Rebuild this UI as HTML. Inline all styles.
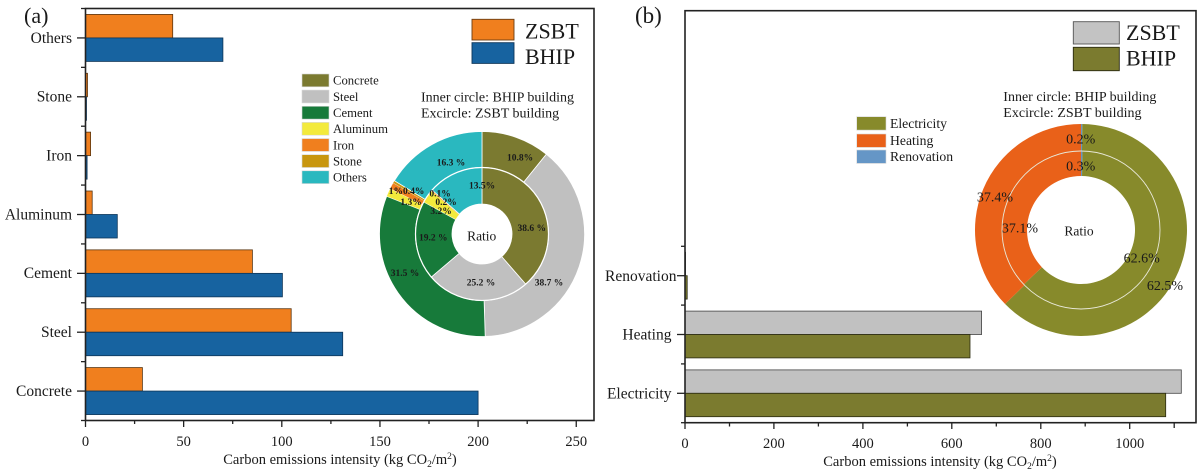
<!DOCTYPE html>
<html>
<head>
<meta charset="utf-8">
<style>
html,body{margin:0;padding:0;background:#fff;}
svg{display:block;}
text{font-family:"Liberation Serif","Times New Roman",serif;fill:#1a1a1a;}
.pl{font-size:9.5px;font-weight:bold;}
</style>
</head>
<body>
<svg width="1200" height="473" viewBox="0 0 1200 473" xmlns="http://www.w3.org/2000/svg">
<rect x="0" y="0" width="1200" height="473" fill="#ffffff"/>

<!-- ================= PANEL (a) ================= -->
<text x="24" y="23" font-size="22">(a)</text>

<!-- bars -->
<g stroke="#5a3510" stroke-width="0.8">
  <rect x="85.5" y="367.57" width="56.9" height="23.5" fill="#F07F1E"/>
  <rect x="85.5" y="308.71" width="205.7" height="23.5" fill="#F07F1E"/>
  <rect x="85.5" y="249.86" width="166.9" height="23.5" fill="#F07F1E"/>
  <rect x="85.5" y="191.0" width="6.7" height="23.5" fill="#F07F1E"/>
  <rect x="85.5" y="132.14" width="5.1" height="23.5" fill="#F07F1E"/>
  <rect x="85.5" y="73.29" width="2" height="23.5" fill="#F07F1E"/>
  <rect x="85.5" y="14.43" width="87.2" height="23.5" fill="#F07F1E"/>
</g>
<g stroke="#0d3558" stroke-width="0.8">
  <rect x="85.5" y="391.07" width="392.6" height="23.5" fill="#1763A0"/>
  <rect x="85.5" y="332.21" width="257.2" height="23.5" fill="#1763A0"/>
  <rect x="85.5" y="273.36" width="196.9" height="23.5" fill="#1763A0"/>
  <rect x="85.5" y="214.5" width="31.8" height="23.5" fill="#1763A0"/>
  <rect x="85.5" y="155.64" width="1.6" height="23.5" fill="#1763A0"/>
  <rect x="85.5" y="96.79" width="1" height="23.5" fill="#1763A0"/>
  <rect x="85.5" y="37.93" width="137.4" height="23.5" fill="#1763A0"/>
</g>

<!-- frame -->
<rect x="85.5" y="8.5" width="508.5" height="412" fill="none" stroke="#222" stroke-width="1.6"/>

<!-- y ticks -->
<g stroke="#222" stroke-width="1.3">
  <line x1="77" y1="391.07" x2="85.5" y2="391.07"/>
  <line x1="77" y1="332.21" x2="85.5" y2="332.21"/>
  <line x1="77" y1="273.36" x2="85.5" y2="273.36"/>
  <line x1="77" y1="214.5" x2="85.5" y2="214.5"/>
  <line x1="77" y1="155.64" x2="85.5" y2="155.64"/>
  <line x1="77" y1="96.79" x2="85.5" y2="96.79"/>
  <line x1="77" y1="37.93" x2="85.5" y2="37.93"/>
  <line x1="81" y1="420.5" x2="85.5" y2="420.5"/>
  <line x1="81" y1="361.64" x2="85.5" y2="361.64"/>
  <line x1="81" y1="302.79" x2="85.5" y2="302.79"/>
  <line x1="81" y1="243.93" x2="85.5" y2="243.93"/>
  <line x1="81" y1="185.07" x2="85.5" y2="185.07"/>
  <line x1="81" y1="126.21" x2="85.5" y2="126.21"/>
  <line x1="81" y1="67.36" x2="85.5" y2="67.36"/>
  <line x1="81" y1="8.5" x2="85.5" y2="8.5"/>
</g>
<!-- x ticks -->
<g stroke="#222" stroke-width="1.3">
  <line x1="85.5" y1="420.5" x2="85.5" y2="427"/>
  <line x1="183.65" y1="420.5" x2="183.65" y2="427"/>
  <line x1="281.8" y1="420.5" x2="281.8" y2="427"/>
  <line x1="379.95" y1="420.5" x2="379.95" y2="427"/>
  <line x1="478.1" y1="420.5" x2="478.1" y2="427"/>
  <line x1="576.25" y1="420.5" x2="576.25" y2="427"/>
  <line x1="134.6" y1="420.5" x2="134.6" y2="424"/>
  <line x1="232.7" y1="420.5" x2="232.7" y2="424"/>
  <line x1="330.9" y1="420.5" x2="330.9" y2="424"/>
  <line x1="429" y1="420.5" x2="429" y2="424"/>
  <line x1="527.2" y1="420.5" x2="527.2" y2="424"/>
</g>

<!-- y labels -->
<g font-size="15.5" text-anchor="end">
  <text x="72" y="396">Concrete</text>
  <text x="72" y="337">Steel</text>
  <text x="72" y="278">Cement</text>
  <text x="72" y="219.5">Aluminum</text>
  <text x="72" y="160.5">Iron</text>
  <text x="72" y="101.5">Stone</text>
  <text x="72" y="43">Others</text>
</g>
<!-- x labels -->
<g font-size="14.5" text-anchor="middle">
  <text x="85.5" y="446">0</text>
  <text x="183.65" y="446">50</text>
  <text x="281.8" y="446">100</text>
  <text x="379.95" y="446">150</text>
  <text x="478.1" y="446">200</text>
  <text x="576.25" y="446">250</text>
</g>
<text x="340" y="464" font-size="14.5" text-anchor="middle">Carbon emissions intensity (kg CO<tspan font-size="9.5" dy="3">2</tspan><tspan dy="-3">/m</tspan><tspan font-size="9.5" dy="-5">2</tspan><tspan dy="5">)</tspan></text>

<!-- main legend -->
<rect x="472" y="19.3" width="42" height="20.7" fill="#F07F1E" stroke="#6b3d12" stroke-width="0.9"/>
<rect x="472" y="42.7" width="42" height="20.7" fill="#1763A0" stroke="#0d3558" stroke-width="0.9"/>
<text x="525" y="38.5" font-size="22">ZSBT</text>
<text x="525" y="64" font-size="22">BHIP</text>

<!-- pie legend -->
<g stroke="#d8d8d8" stroke-width="0.6">
  <rect x="302" y="74" width="27" height="12.8" fill="#7B7A30"/>
  <rect x="302" y="90.1" width="27" height="12.8" fill="#C0C0C0"/>
  <rect x="302" y="106.3" width="27" height="12.8" fill="#177A3A"/>
  <rect x="302" y="122.4" width="27" height="12.8" fill="#F3EA3C"/>
  <rect x="302" y="138.6" width="27" height="12.8" fill="#F07F1E"/>
  <rect x="302" y="154.7" width="27" height="12.8" fill="#C8960F"/>
  <rect x="302" y="170.8" width="27" height="12.8" fill="#2AB8BF"/>
</g>
<g font-size="12.7">
  <text x="333" y="84.6">Concrete</text>
  <text x="333" y="100.8">Steel</text>
  <text x="333" y="117">Cement</text>
  <text x="333" y="133.1">Aluminum</text>
  <text x="333" y="149.3">Iron</text>
  <text x="333" y="165.4">Stone</text>
  <text x="333" y="181.5">Others</text>
</g>
<text x="421" y="101.5" font-size="14">Inner circle: BHIP building</text>
<text x="421" y="117.5" font-size="14">Excircle: ZSBT building</text>

<!-- left donut outer ring -->
<g stroke="#ffffff" stroke-width="0.8">
  <path d="M482,131.5 A102.5,102.5 0 0 1 546.34,154.21 L523.74,182.24 A66.5,66.5 0 0 0 482,167.5 Z" fill="#7B7A30"/>
  <path d="M546.34,154.21 A102.5,102.5 0 0 1 485.22,336.45 L484.09,300.47 A66.5,66.5 0 0 0 523.74,182.24 Z" fill="#C0C0C0"/>
  <path d="M485.22,336.45 A102.5,102.5 0 0 1 386.70,196.27 L420.17,209.52 A66.5,66.5 0 0 0 484.09,300.47 Z" fill="#177A3A"/>
  <path d="M386.70,196.27 A102.5,102.5 0 0 1 390.10,188.61 L422.38,204.55 A66.5,66.5 0 0 0 420.17,209.52 Z" fill="#F3EA3C" stroke-width="0.3"/>
  <path d="M390.10,188.61 A102.5,102.5 0 0 1 393.12,182.93 L424.34,200.87 A66.5,66.5 0 0 0 422.38,204.55 Z" fill="#F07F1E" stroke-width="0.3"/>
  <path d="M393.12,182.93 A102.5,102.5 0 0 1 394.43,180.72 L425.19,199.43 A66.5,66.5 0 0 0 424.34,200.87 Z" fill="#C8960F" stroke-width="0.2"/>
  <path d="M394.43,180.72 A102.5,102.5 0 0 1 482,131.5 L482,167.5 A66.5,66.5 0 0 0 425.19,199.43 Z" fill="#2AB8BF"/>
</g>
<!-- left donut inner ring -->
<g stroke="#ffffff" stroke-width="0.8">
  <path d="M482,167.5 A66.5,66.5 0 0 1 525.66,284.16 L501.70,256.63 A30,30 0 0 0 482,204 Z" fill="#7B7A30"/>
  <path d="M525.66,284.16 A66.5,66.5 0 0 1 431.30,277.03 L459.13,253.41 A30,30 0 0 0 501.70,256.63 Z" fill="#C0C0C0"/>
  <path d="M431.30,277.03 A66.5,66.5 0 0 1 423.73,201.96 L455.71,219.55 A30,30 0 0 0 459.13,253.41 Z" fill="#177A3A"/>
  <path d="M423.73,201.96 A66.5,66.5 0 0 1 431.30,190.97 L459.13,214.59 A30,30 0 0 0 455.71,219.55 Z" fill="#F3EA3C" stroke-width="0.3"/>
  <path d="M431.30,190.97 A66.5,66.5 0 0 1 431.85,190.34 L459.37,214.30 A30,30 0 0 0 459.13,214.59 Z" fill="#F07F1E" stroke-width="0.1"/>
  <path d="M431.85,190.34 A66.5,66.5 0 0 1 432.12,190.02 L459.50,214.16 A30,30 0 0 0 459.37,214.30 Z" fill="#C8960F" stroke-width="0.1"/>
  <path d="M432.12,190.02 A66.5,66.5 0 0 1 482,167.5 L482,204 A30,30 0 0 0 459.50,214.16 Z" fill="#2AB8BF"/>
</g>
<circle cx="482" cy="234" r="66.5" fill="none" stroke="#ffffff" stroke-width="1.2"/>
<circle cx="482" cy="234" r="29.6" fill="#ffffff"/>

<g class="pl" text-anchor="middle">
  <text class="pl" x="520" y="160.5">10.8%</text>
  <text class="pl" x="549" y="285.5">38.7 %</text>
  <text class="pl" x="405" y="276">31.5 %</text>
  <text class="pl" x="451" y="165.5">16.3  %</text>
  <text class="pl" x="406.5" y="194">1%0.4%</text>
  <text class="pl" x="411" y="205">1.3%</text>
  <text class="pl" x="482" y="188.5">13.5%</text>
  <text class="pl" x="531.7" y="231">38.6 %</text>
  <text class="pl" x="481" y="285.5">25.2 %</text>
  <text class="pl" x="433.3" y="240.5">19.2 %</text>
  <text class="pl" x="440" y="196.5">0.1%</text>
  <text class="pl" x="446" y="205">0.2%</text>
  <text class="pl" x="441" y="214">3.2%</text>
</g>
<text x="481.7" y="240.5" font-size="13.5" text-anchor="middle">Ratio</text>

<!-- ================= PANEL (b) ================= -->
<text x="635" y="23" font-size="23">(b)</text>

<!-- bars -->
<g stroke="#444" stroke-width="0.8">
  <rect x="685" y="369.9" width="496.3" height="23.4" fill="#C1C1C1"/>
  <rect x="685" y="311.1" width="296.6" height="23.4" fill="#C1C1C1"/>
  <rect x="685" y="252.3" width="0.6" height="23.4" fill="#C1C1C1"/>
</g>
<g stroke="#2a2a10" stroke-width="0.8">
  <rect x="685" y="393.3" width="480.7" height="23.4" fill="#7B7B2F"/>
  <rect x="685" y="334.5" width="285" height="23.4" fill="#7B7B2F"/>
  <rect x="685" y="275.7" width="2.2" height="23.4" fill="#7B7B2F"/>
</g>

<!-- frame -->
<rect x="685" y="10.7" width="511" height="412" fill="none" stroke="#222" stroke-width="1.6"/>

<!-- y ticks -->
<g stroke="#222" stroke-width="1.3">
  <line x1="677" y1="393.3" x2="685" y2="393.3"/>
  <line x1="677" y1="334.5" x2="685" y2="334.5"/>
  <line x1="677" y1="275.7" x2="685" y2="275.7"/>
  <line x1="681" y1="422.7" x2="685" y2="422.7"/>
  <line x1="681" y1="363.9" x2="685" y2="363.9"/>
  <line x1="681" y1="305.1" x2="685" y2="305.1"/>
  <line x1="681" y1="246.3" x2="685" y2="246.3"/>
</g>
<!-- x ticks -->
<g stroke="#222" stroke-width="1.3">
  <line x1="685" y1="422.7" x2="685" y2="429"/>
  <line x1="773.9" y1="422.7" x2="773.9" y2="429"/>
  <line x1="862.9" y1="422.7" x2="862.9" y2="429"/>
  <line x1="951.8" y1="422.7" x2="951.8" y2="429"/>
  <line x1="1040.8" y1="422.7" x2="1040.8" y2="429"/>
  <line x1="1129.7" y1="422.7" x2="1129.7" y2="429"/>
  <line x1="729.5" y1="422.7" x2="729.5" y2="426.5"/>
  <line x1="818.4" y1="422.7" x2="818.4" y2="426.5"/>
  <line x1="907.4" y1="422.7" x2="907.4" y2="426.5"/>
  <line x1="996.3" y1="422.7" x2="996.3" y2="426.5"/>
  <line x1="1085.2" y1="422.7" x2="1085.2" y2="426.5"/>
  <line x1="1174.2" y1="422.7" x2="1174.2" y2="428"/>
</g>

<!-- y labels -->
<g font-size="15.5" text-anchor="end">
  <text x="671.5" y="398.5">Electricity</text>
  <text x="671.5" y="339.5">Heating</text>
  <text x="676.5" y="281">Renovation</text>
</g>
<!-- x labels -->
<g font-size="14.5" text-anchor="middle">
  <text x="685" y="448">0</text>
  <text x="773.9" y="448">200</text>
  <text x="862.9" y="448">400</text>
  <text x="951.8" y="448">600</text>
  <text x="1040.8" y="448">800</text>
  <text x="1129.7" y="448">1000</text>
</g>
<text x="940" y="466" font-size="14.5" text-anchor="middle">Carbon emissions intensity (kg CO<tspan font-size="9.5" dy="3">2</tspan><tspan dy="-3">/m</tspan><tspan font-size="9.5" dy="-5">2</tspan><tspan dy="5">)</tspan></text>

<!-- main legend -->
<rect x="1073.3" y="21.7" width="46" height="22.3" fill="#C3C3C3" stroke="#555" stroke-width="0.9"/>
<rect x="1073.3" y="47.3" width="46" height="23.4" fill="#7B7B2F" stroke="#2a2a10" stroke-width="0.9"/>
<text x="1126" y="40" font-size="22">ZSBT</text>
<text x="1126" y="65.7" font-size="22">BHIP</text>

<!-- pie legend -->
<g stroke="#d8d8d8" stroke-width="0.6">
  <rect x="856.7" y="116.7" width="29.3" height="13.4" fill="#878A2B"/>
  <rect x="856.7" y="134" width="29.3" height="13.4" fill="#E96119"/>
  <rect x="856.7" y="150" width="29.3" height="13.4" fill="#6596C6"/>
</g>
<g font-size="13.7">
  <text x="890" y="128">Electricity</text>
  <text x="890" y="145">Heating</text>
  <text x="890" y="161">Renovation</text>
</g>
<text x="1003.3" y="101" font-size="14">Inner circle: BHIP building</text>
<text x="1003.3" y="117" font-size="14">Excircle: ZSBT building</text>

<!-- right donut outer -->
<path d="M1081,124 A106,106 0 0 1 1082.33,124.01 L1081.99,151.01 A79,79 0 0 0 1081,151 Z" fill="#6596C6"/>
<path d="M1082.33,124.01 A106,106 0 1 1 1005.11,304.01 L1024.44,285.16 A79,79 0 1 0 1081.99,151.01 Z" fill="#878A2B"/>
<path d="M1005.11,304.01 A106,106 0 0 1 1081,124 L1081,151 A79,79 0 0 0 1024.44,285.16 Z" fill="#E96119"/>
<!-- right donut inner -->
<path d="M1081,151 A79,79 0 0 1 1082.49,151.01 L1082.02,176.01 A54,54 0 0 0 1081,176 Z" fill="#6596C6"/>
<path d="M1082.49,151.01 A79,79 0 1 1 1023.76,284.44 L1041.87,267.21 A54,54 0 1 0 1082.02,176.01 Z" fill="#878A2B"/>
<path d="M1023.76,284.44 A79,79 0 0 1 1081,151 L1081,176 A54,54 0 0 0 1041.87,267.21 Z" fill="#E96119"/>
<circle cx="1081" cy="230" r="79" fill="none" stroke="#e8e8d8" stroke-width="0.9"/>
<circle cx="1081" cy="230" r="53.6" fill="#ffffff"/>

<g font-size="14" text-anchor="middle">
  <text x="1080.7" y="143.3">0.2%</text>
  <text x="1080.7" y="170.7">0.3%</text>
  <text x="995" y="201.7">37.4%</text>
  <text x="1020" y="232.3">37.1%</text>
  <text x="1141.7" y="262.3">62.6%</text>
  <text x="1165" y="290">62.5%</text>
  <text x="1079" y="235.7" font-size="13.5">Ratio</text>
</g>

</svg>
</body>
</html>
